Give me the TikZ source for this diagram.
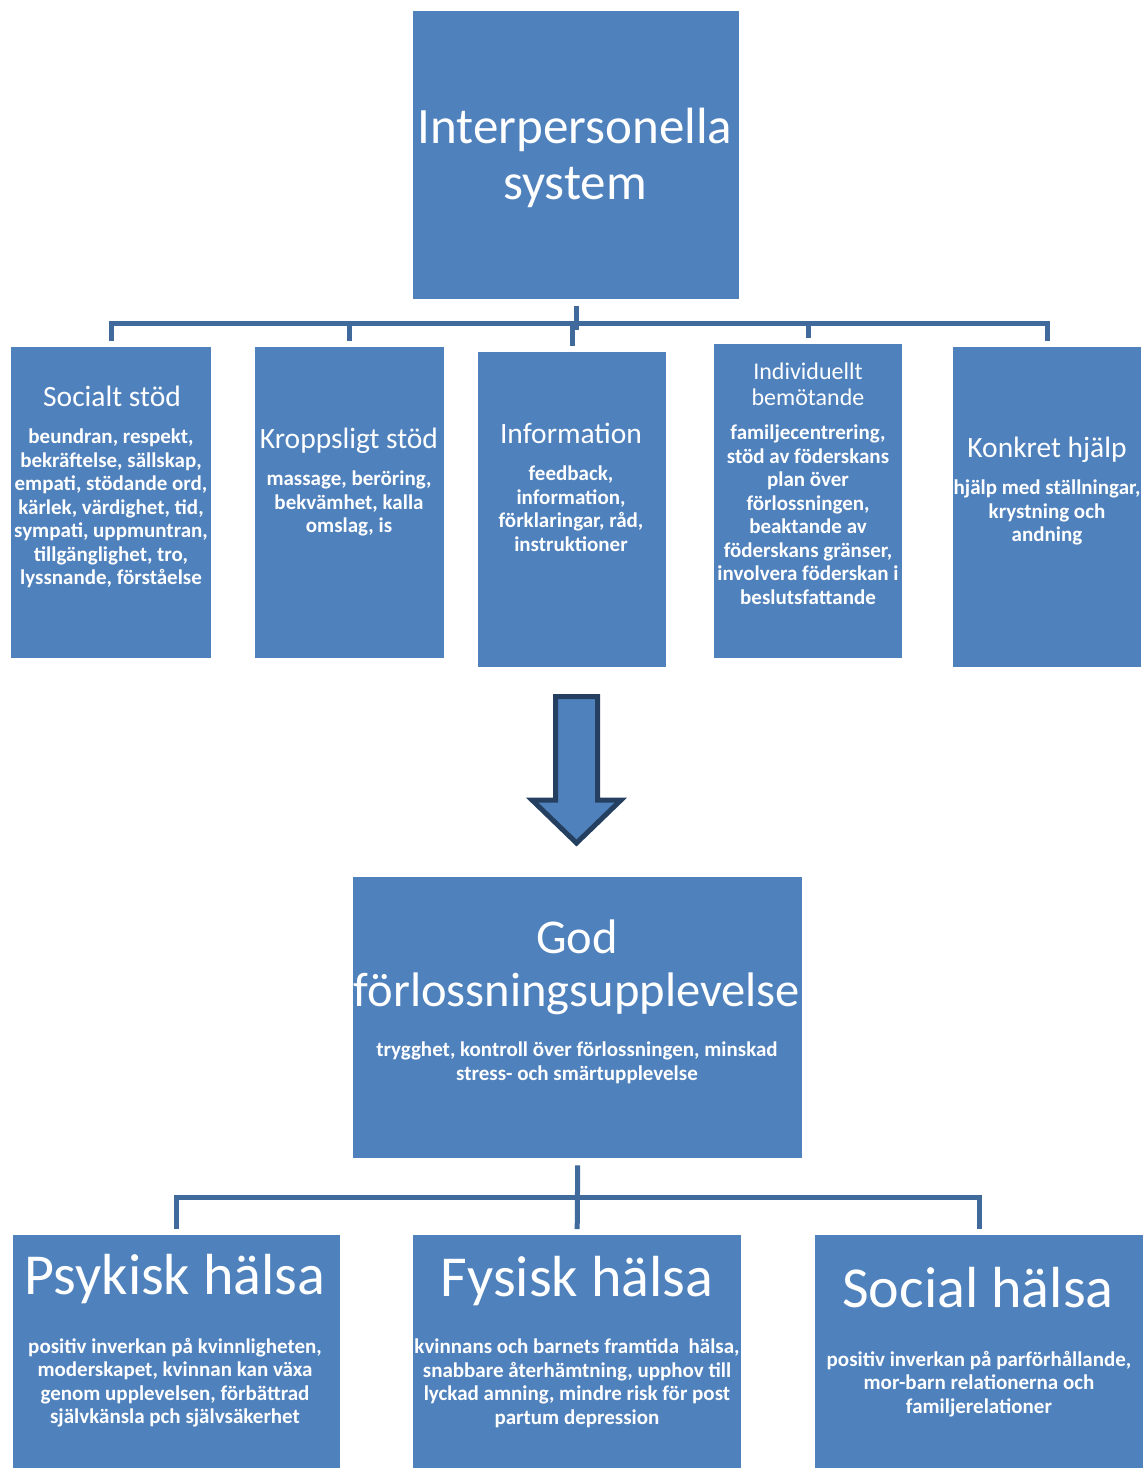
\documentclass[tikz,border=0pt]{standalone}
\usepackage{fontspec}
\setmainfont{Carlito}
\usetikzlibrary{calc}
\definecolor{boxblue}{HTML}{4F81BD}
\definecolor{linkblue}{HTML}{3F6A9B}
\definecolor{arrowedge}{HTML}{243F60}
\begin{document}
\begin{tikzpicture}[x=1pt,y=-1pt,
  box/.style={fill=boxblue, draw=none, inner sep=0, anchor=north west},
  ttl/.style={text=white, align=center, inner sep=0, anchor=north},
  bigttl/.style={ttl, font=\fontsize{51}{56}\selectfont},
  midttl/.style={ttl, font=\fontsize{29.5}{32}\selectfont},
  smallttl/.style={ttl, font=\fontsize{24}{26}\selectfont},
  hugettl/.style={ttl, font=\fontsize{58}{60}\selectfont},
  body/.style={ttl, font=\bfseries\fontsize{21}{23.5}\selectfont},
  link/.style={draw=linkblue, line width=5pt},
  blockarrow/.style={fill=boxblue, draw=arrowedge, line width=5pt, line join=miter}]
\useasboundingbox (0,0) rectangle (1144,1468);

% boxes
\node[box, minimum width=326pt, minimum height=288pt] (top) at (413,11) {};
\node[box, minimum width=200pt, minimum height=311pt] (soc) at (11,347) {};
\node[box, minimum width=189pt, minimum height=311pt] (kro) at (255,347) {};
\node[box, minimum width=188pt, minimum height=315pt] (inf) at (478,352) {};
\node[box, minimum width=188pt, minimum height=314pt] (ind) at (714,344) {};
\node[box, minimum width=188pt, minimum height=320pt] (kon) at (953,347) {};
\node[box, minimum width=449pt, minimum height=281pt] (mid) at (353,877) {};
\node[box, minimum width=327pt, minimum height=233pt] (psy) at (13,1235) {};
\node[box, minimum width=328pt, minimum height=233pt] (fys) at (413,1235) {};
\node[box, minimum width=328pt, minimum height=233pt] (soh) at (815,1235) {};

% top tree
\coordinate (bar1) at (0,323);
\draw[link] ($(top.south)+(0,7)$) -- ($(top.south)+(0,31)$);
\draw[link] ($(soc.north |- bar1)+(-2.5,0)$) -- ($(kon.north |- bar1)+(2.5,0)$);
\foreach \b in {soc,kro,inf,ind,kon}
  \draw[link] (\b.north |- bar1) -- ($(\b.north)+(0,-6)$);

% block arrow
\draw[blockarrow] (555.5,696.5) -- (597.5,696.5) -- (597.5,800) -- (621,800)
  -- (576.5,843) -- (532,800) -- (555.5,800) -- cycle;

% bottom tree
\coordinate (bar2) at (0,1197);
\draw[link] ($(mid.south)+(0,7)$) -- ($(fys.north)+(0,-6)$);
\draw[link] ($(psy.north |- bar2)+(-2.5,0)$) -- ($(soh.north |- bar2)+(2.5,0)$);
\foreach \b in {psy,soh}
  \draw[link] (\b.north |- bar2) -- ($(\b.north)+(0,-6)$);

% texts
\node[bigttl] (topt) at (575,108) {Interpersonella\\system};

\node[midttl] (soct) at (112,386) {Socialt stöd};
\node[body] (socb) at (111,429) {beundran, respekt,\\bekräftelse, sällskap,\\empati, stödande ord,\\kärlek, värdighet, tid,\\sympati, uppmuntran,\\tillgänglighet, tro,\\lyssnande, förståelse};

\node[midttl] (krot) at (349,428) {Kroppsligt stöd};
\node[body] (krob) at (349,471) {massage, beröring,\\bekvämhet, kalla\\omslag, is};

\node[midttl] (inft) at (571,423) {Information};
\node[body] (infb) at (571,466) {feedback,\\information,\\förklaringar, råd,\\instruktioner};

\node[smallttl] (indt) at (808,363) {Individuellt\\bemötande};
\node[body] (indb) at (808,425) {familjecentrering,\\stöd av föderskans\\plan över\\förlossningen,\\beaktande av\\föderskans gränser,\\involvera föderskan i\\beslutsfattande};

\node[midttl] (kont) at (1047,437) {Konkret hjälp};
\node[body] (konb) at (1047,480) {hjälp med ställningar,\\krystning och\\andning};

\node[bigttl, font=\fontsize{48.5}{53}\selectfont] (midt) at (577,920) {God\\förlossningsupplevelse};
\node[body] (midb) at (577,1042) {trygghet, kontroll över förlossningen, minskad\\stress- och smärtupplevelse};

\node[hugettl] (psyt) at (175,1254) {Psykisk hälsa};
\node[body] (psyb) at (175,1338) {positiv inverkan på kvinnligheten,\\moderskapet, kvinnan kan växa\\genom upplevelsen, förbättrad\\självkänsla pch självsäkerhet};

\node[hugettl] (fyst) at (577,1256) {Fysisk hälsa};
\node[body] (fysb) at (577,1339) {kvinnans och barnets framtida\ \ hälsa,\\snabbare återhämtning, upphov till\\lyckad amning, mindre risk för post\\partum depression};

\node[hugettl] (soht) at (978,1267) {Social hälsa};
\node[body] (sohb) at (979,1351) {positiv inverkan på parförhållande,\\mor-barn relationerna och\\familjerelationer};
\end{tikzpicture}
\end{document}
